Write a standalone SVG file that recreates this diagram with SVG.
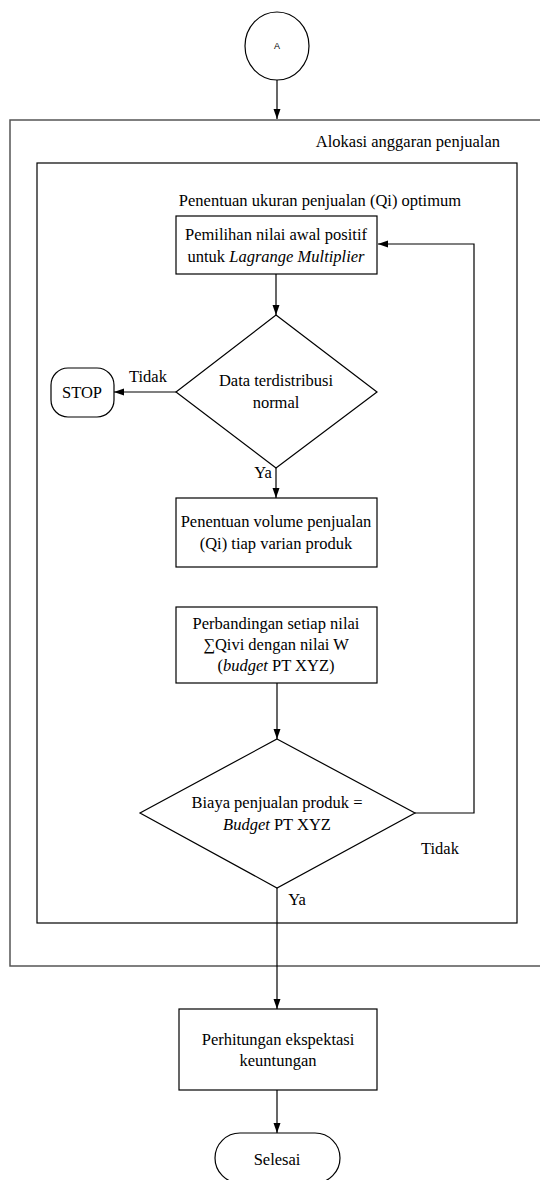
<svg xmlns="http://www.w3.org/2000/svg" width="540" height="1180" viewBox="0 0 540 1180">
<style>
text{font-family:"Liberation Serif","Times New Roman",serif;font-size:16.5px;fill:#000;text-anchor:middle}
.sh{fill:#fff;stroke:#000;stroke-width:1.2}
.ln{fill:none;stroke:#000;stroke-width:1.2}
.it{font-style:italic}
</style>
<defs>
<marker id="ah" markerUnits="userSpaceOnUse" markerWidth="10" markerHeight="10" viewBox="0 0 10 10" refX="10" refY="5" orient="auto">
<path d="M0,1.5 L10,5 L0,8.5 Z" fill="#000"/>
</marker>
</defs>
<g id="outer-box">
<rect x="10" y="120" width="540" height="846" fill="#fff" stroke="#555" stroke-width="1.5"/>
<text x="500" y="147" style="text-anchor:end">Alokasi anggaran penjualan</text>
</g>
<g id="inner-box">
<rect x="37" y="163" width="480" height="760" class="sh"/>
<text x="320" y="206">Penentuan ukuran penjualan (Qi) optimum</text>
</g>
<g id="connectors">
<line x1="277" y1="80" x2="277" y2="119" class="ln" marker-end="url(#ah)"/>
<line x1="276" y1="274" x2="276" y2="315" class="ln" marker-end="url(#ah)"/>
<line x1="176" y1="392" x2="114" y2="392" class="ln" marker-end="url(#ah)"/>
<line x1="276" y1="468" x2="276" y2="498" class="ln" marker-end="url(#ah)"/>
<line x1="277" y1="683" x2="277" y2="739" class="ln" marker-end="url(#ah)"/>
<polyline points="415,813 474,813 474,244 378,244" class="ln" marker-end="url(#ah)"/>
<line x1="277" y1="888" x2="277" y2="1009" class="ln" marker-end="url(#ah)"/>
<line x1="277" y1="1090" x2="277" y2="1133" class="ln" marker-end="url(#ah)"/>
<text x="148" y="382">Tidak</text>
<text x="263" y="478">Ya</text>
<text x="440" y="854">Tidak</text>
<text x="297" y="905">Ya</text>
</g>
<g id="start-A">
<ellipse cx="277" cy="46" rx="32" ry="34" class="sh"/>
<text x="277" y="49" style="font-family:'Liberation Sans',Arial,sans-serif;font-size:9px">A</text>
</g>
<g id="box-pemilihan">
<rect x="176" y="216" width="201" height="58" class="sh"/>
<text x="276" y="240">Pemilihan nilai awal positif</text>
<text x="276" y="262">untuk <tspan class="it">Lagrange Multiplier</tspan></text>
</g>
<g id="dec-normal">
<polygon points="276,315 377,392 276,468 176,392" class="sh"/>
<text x="276" y="386">Data terdistribusi</text>
<text x="276" y="408">normal</text>
</g>
<g id="stop">
<rect x="51" y="368" width="63" height="49" rx="17" class="sh"/>
<text x="82" y="398">STOP</text>
</g>
<g id="box-volume">
<rect x="176" y="498" width="201" height="69" class="sh"/>
<text x="276" y="527">Penentuan volume penjualan</text>
<text x="276" y="549">(Qi) tiap varian produk</text>
</g>
<g id="box-perbandingan">
<rect x="176" y="607" width="201" height="76" class="sh"/>
<text x="276" y="629">Perbandingan setiap nilai</text>
<text x="276" y="650">∑Qivi dengan nilai W</text>
<text x="276" y="671">(<tspan class="it">budget</tspan> PT XYZ)</text>
</g>
<g id="dec-biaya">
<polygon points="277,739 415,813 277,888 140,813" class="sh"/>
<text x="277" y="808">Biaya penjualan produk =</text>
<text x="277" y="830"><tspan class="it">Budget</tspan> PT XYZ</text>
</g>
<g id="box-ekspektasi">
<rect x="179" y="1009" width="198" height="81" class="sh"/>
<text x="278" y="1045">Perhitungan ekspektasi</text>
<text x="278" y="1066">keuntungan</text>
</g>
<g id="end-selesai">
<rect x="215" y="1133" width="125" height="50" rx="25" class="sh"/>
<text x="277" y="1165">Selesai</text>
</g>
</svg>
